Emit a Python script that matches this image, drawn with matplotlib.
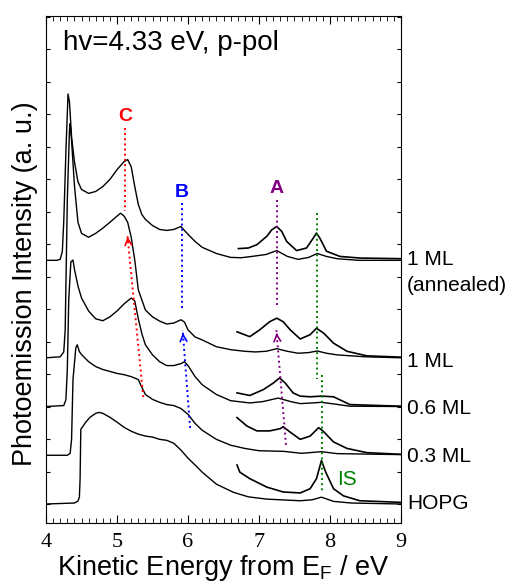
import matplotlib
matplotlib.use("Agg")
import matplotlib.pyplot as plt

plt.rcParams['font.family'] = ['Liberation Sans', 'DejaVu Sans']
plt.rcParams['mathtext.fontset'] = 'custom'
plt.rcParams['mathtext.rm'] = 'Liberation Sans'

# sample names (right side labels) and vertical offsets of each spectrum
labels = ["1 ML", "1 ML", "0.6 ML", "0.3 ML", "HOPG"]
offsets = [7.5, 4.5, 3.0, 1.5, 0.0]

# full spectra: kinetic energy (eV) / intensity above its own baseline
e_ann = [4.0, 4.15, 4.2, 4.23, 4.25, 4.28, 4.31, 4.33, 4.36, 4.4, 4.45, 4.5, 4.6, 4.7, 4.8, 4.9,
         5.0, 5.1, 5.15, 5.2, 5.25, 5.3, 5.35, 5.4, 5.5, 5.6, 5.7, 5.8, 5.9, 6.0, 6.1, 6.2, 6.4,
         6.6, 6.75, 6.9, 7.1, 7.25, 7.4, 7.55, 7.7, 7.82, 7.95, 8.1, 8.4, 9.0]
i_ann = [0, 0, 0.03, 0.28, 1.2, 3.34, 5.12, 4.88, 3.8, 3.04, 2.42, 2.18, 2.06, 2.12, 2.27, 2.49,
         2.79, 3.04, 3.1, 2.88, 2.27, 1.72, 1.41, 1.26, 1.07, 0.95, 0.92, 0.95, 1.04, 0.8, 0.58, 0.40, 0.21,
         0.09, 0.08, 0.12, 0.18, 0.3, 0.12, 0.03, 0.09, 0.21, 0.12, 0.05, 0.0, 0.0]

e_1ml = [4.0, 4.2, 4.25, 4.27, 4.3, 4.33, 4.34, 4.36, 4.4, 4.45, 4.5, 4.6, 4.7, 4.8, 4.9, 5.0,
         5.05, 5.1, 5.15, 5.2, 5.25, 5.3, 5.35, 5.4, 5.5, 5.6, 5.7, 5.8, 5.9, 5.95, 6.0, 6.1, 6.2,
         6.4, 6.6, 6.8, 6.95, 7.1, 7.25, 7.4, 7.55, 7.7, 7.82, 7.95, 8.1, 8.5, 9.0]
i_1ml = [0, 0.03, 0.18, 0.86, 4.85, 7.0, 7.21, 6.69, 5.31, 4.17, 3.83, 3.71, 3.83, 3.99, 4.17, 4.36,
         4.45, 4.36, 4.17, 3.71, 3.01, 2.09, 1.78, 1.47, 1.26, 1.13, 1.04, 1.07, 1.17, 1.1, 0.86, 0.64, 0.55,
         0.34, 0.25, 0.2, 0.18, 0.2, 0.28, 0.2, 0.14, 0.16, 0.21, 0.14, 0.09, 0.03, 0.0]

e_06 = [4.0, 4.25, 4.28, 4.3, 4.32, 4.35, 4.38, 4.4, 4.45, 4.5, 4.6, 4.7, 4.8, 4.9, 5.0, 5.1,
        5.2, 5.25, 5.3, 5.35, 5.4, 5.5, 5.6, 5.7, 5.8, 5.9, 5.95, 6.0, 6.1, 6.2, 6.4, 6.6,
        6.87, 7.05, 7.27, 7.45, 7.58, 7.75, 7.88, 8.05, 8.28, 9.0]
i_06 = [0, 0.03, 0.21, 1.13, 3.28, 4.45, 4.51, 4.23, 3.71, 3.34, 2.94, 2.7, 2.64, 2.76, 2.94, 3.16,
        3.34, 3.25, 2.7, 2.24, 1.9, 1.59, 1.38, 1.26, 1.26, 1.32, 1.38, 1.26, 0.92, 0.67, 0.37, 0.18,
        0.11, 0.15, 0.26, 0.15, 0.09, 0.11, 0.13, 0.08, 0.01, 0.0]

e_03 = [4.0, 4.3, 4.34, 4.36, 4.38, 4.42, 4.44, 4.47, 4.5, 4.6, 4.7, 4.8, 4.9, 5.0, 5.1, 5.2,
        5.3, 5.35, 5.4, 5.5, 5.6, 5.7, 5.8, 5.9, 6.0, 6.1, 6.2, 6.4, 6.6, 6.8, 7.0, 7.35,
        7.6, 7.88, 8.1, 9.0]
i_03 = [0, 0, 0.06, 0.49, 2.33, 3.31, 3.4, 3.19, 3.1, 2.88, 2.73, 2.64, 2.58, 2.52, 2.48, 2.42,
        2.33, 2.09, 1.87, 1.72, 1.63, 1.56, 1.53, 1.44, 1.26, 0.98, 0.77, 0.49, 0.31, 0.21, 0.14, 0.12,
        0.06, 0.11, 0.05, 0.02]

e_hopg = [4.0, 4.4, 4.45, 4.47, 4.48, 4.49, 4.52, 4.56, 4.62, 4.7, 4.75, 4.8, 4.9, 5.0, 5.1, 5.2,
          5.3, 5.4, 5.5, 5.6, 5.7, 5.8, 5.9, 6.0, 6.1, 6.2, 6.4, 6.64, 6.85, 7.11, 7.58, 7.75,
          7.88, 8.05, 8.3, 9.0]
i_hopg = [0, 0.03, 0.09, 0.21, 0.77, 2.3, 2.39, 2.52, 2.67, 2.79, 2.82, 2.79, 2.67, 2.52, 2.36, 2.24,
          2.15, 2.09, 2.06, 1.99, 1.96, 1.87, 1.66, 1.41, 1.2, 0.98, 0.61, 0.36, 0.22, 0.15, 0.1, 0.13,
          0.21, 0.08, 0.03, 0.0]

# magnified high-energy part
m_e_ann = [6.71, 6.85, 6.97, 7.11, 7.18, 7.25, 7.32, 7.39, 7.53, 7.67, 7.76, 7.81, 7.86, 7.95, 8.14, 8.42, 9.0]
m_i_ann = [0.36, 0.38, 0.48, 0.74, 0.94, 1.04, 0.89, 0.58, 0.3, 0.38, 0.67, 0.84, 0.67, 0.28, 0.12, 0.07, 0.05]
m_e_1ml = [6.69, 6.87, 7.01, 7.15, 7.25, 7.34, 7.44, 7.58, 7.72, 7.81, 7.91, 8.05, 8.24, 8.52, 9.0]
m_i_1ml = [0.8, 0.65, 0.86, 1.11, 1.22, 1.11, 0.86, 0.58, 0.71, 0.91, 0.76, 0.45, 0.2, 0.06, 0.02]
m_e_06 = [6.69, 6.87, 7.06, 7.2, 7.29, 7.37, 7.48, 7.58, 7.72, 7.88, 8.05, 8.28, 9.0]
m_i_06 = [0.42, 0.34, 0.52, 0.72, 0.88, 0.72, 0.42, 0.32, 0.3, 0.32, 0.3, 0.06, 0.01]
m_e_03 = [6.69, 6.83, 6.97, 7.15, 7.3, 7.34, 7.44, 7.58, 7.72, 7.84, 7.9, 8.05, 8.24, 8.52, 9.0]
m_i_03 = [1.16, 0.9, 0.75, 0.75, 0.82, 0.88, 0.71, 0.49, 0.59, 0.85, 0.75, 0.41, 0.21, 0.08, 0.03]
m_e_hopg = [6.69, 6.73, 6.87, 7.11, 7.34, 7.58, 7.72, 7.81, 7.88, 7.94, 8.05, 8.19, 8.42, 9.0]
m_i_hopg = [1.2, 0.98, 0.78, 0.52, 0.37, 0.34, 0.47, 0.78, 1.34, 0.98, 0.47, 0.25, 0.1, 0.05]

spectra = [(e_ann, i_ann), (e_1ml, i_1ml), (e_06, i_06), (e_03, i_03), (e_hopg, i_hopg)]
magnified = [(m_e_ann, m_i_ann), (m_e_1ml, m_i_1ml), (m_e_06, m_i_06), (m_e_03, m_i_03), (m_e_hopg, m_i_hopg)]

fig = plt.figure(figsize=(5.09, 5.86), dpi=100)
ax = fig.add_axes([0.0904, 0.1075, 0.6974, 0.8652])

for (e, i), (me, mi), off in zip(spectra, magnified, offsets):
    ax.plot(e, [v + off for v in i], color='black', lw=1.0)
    ax.plot(me, [v + off for v in mi], color='black', lw=1.2)

# peak markers
ax.plot([5.11, 5.11], [11.57, 9.02], color='red', ls=':', lw=1.4)
ax.text(5.11, 11.94, "C", color='red', fontsize=14, fontweight='bold', ha='center', va='center')
ax.plot([5.915, 5.915], [9.26, 6.03], color='blue', ls=':', lw=1.4)
ax.text(5.915, 9.6, "B", color='blue', fontsize=14, fontweight='bold', ha='center', va='center')
ax.plot([7.25, 7.25], [9.35, 6.06], color='purple', ls=':', lw=1.4)
ax.text(7.25, 9.72, "A", color='purple', fontsize=14, fontweight='bold', ha='center', va='center')
ax.plot([7.817, 7.817], [8.95, 3.85], color='green', ls=':', lw=1.4)
ax.plot([7.887, 7.887], [3.97, 0.35], color='green', ls=':', lw=1.4)
ax.text(8.24, 0.74, "IS", color='green', fontsize=15, ha='center', va='center')

# coverage shift arrows
arrows = [((5.37, 3.29), (5.145, 8.31), 'red'),
          ((6.03, 2.34), (5.925, 5.35), 'blue'),
          ((7.38, 1.82), (7.245, 5.35), 'purple')]
for (x0, y0), (x1, y1), c in arrows:
    ax.plot([x0, x1], [y0, y1], color=c, ls=':', lw=1.4)
    ax.annotate("", xy=(x1, y1), xytext=(x1 + (x0 - x1) * 0.06, y1 + (y0 - y1) * 0.06),
                arrowprops=dict(arrowstyle='->', color=c, lw=1.2, mutation_scale=12))

ax.text(4.24, 13.97, "hv=4.33 eV, p-pol", fontsize=20, va='baseline')

# sample labels on the right
label_y = [7.52, 4.38, 2.95, 1.45, 0.02]
for lab, y in zip(labels, label_y):
    ax.text(9.085, y, lab, fontsize=15, va='center', clip_on=False)
ax.text(9.085, 6.71, "(annealed)", fontsize=15, va='center', clip_on=False)

ax.set_xlim(4, 9)
ax.set_ylim(-0.585, 15.02)
ax.set_xticks([4, 5, 6, 7, 8, 9])
ax.set_xticks([4 + 0.1 * k for k in range(51)], minor=True)
ax.set_yticks(range(0, 16))
ax.set_yticklabels([])
ax.tick_params(which='both', direction='in', top=True, right=True)
ax.tick_params(which='major', axis='x', length=6, pad=7)
ax.tick_params(which='minor', axis='x', length=3.5)
ax.tick_params(which='major', axis='y', length=3)
for t in ax.get_xticklabels():
    t.set_fontfamily('Liberation Serif')
    t.set_fontsize(16)

ax.set_xlabel("Kinetic Energy from E$_\\mathrm{F}$ / eV", fontsize=19.5, labelpad=1)
ax.set_ylabel("Photoemission Intensity (a. u.)", fontsize=19.5, labelpad=2)
ax.yaxis.label.set_y(0.473)

fig.savefig("out.png", dpi=100)
